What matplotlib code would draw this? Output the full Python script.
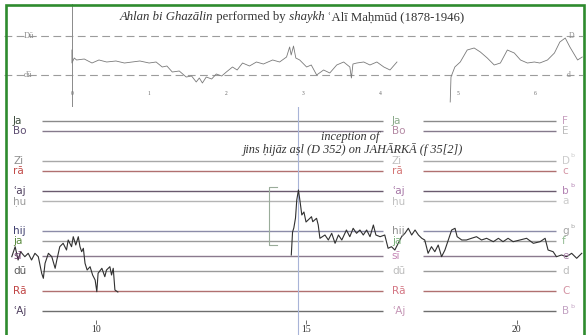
import matplotlib
matplotlib.use("Agg")
import matplotlib.pyplot as plt
from matplotlib.patches import Rectangle

# --- overview (top panel): position in minutes-ish marks, pitch in semitones above 'Aj
top_x_a = [0.00, 0.00, 0.03, 0.06, 0.16, 0.26, 0.35, 0.45, 0.57, 0.68, 0.78, 0.88, 1.00, 1.09,
           1.17, 1.23, 1.30, 1.39, 1.48, 1.55, 1.61, 1.65, 1.69, 1.74, 1.81, 1.87, 1.94, 2.00,
           2.08, 2.14, 2.21, 2.30, 2.39, 2.48, 2.60, 2.69, 2.78, 2.82, 2.84, 2.87, 2.90, 2.95,
           3.04, 3.10, 3.17, 3.26, 3.34, 3.43, 3.52, 3.60, 3.62, 3.64, 3.69, 3.78, 3.86, 3.95,
           4.04, 4.12, 4.21]
top_p_a = [11.69, 7.69, 9.23, 8.62, 8.92, 7.69, 8.62, 8.0, 8.31, 7.69, 8.0, 8.31, 7.69, 8.0,
           6.46, 6.77, 4.92, 5.23, 3.38, 3.69, 1.85, 3.08, 1.54, 3.38, 2.77, 4.31, 3.69, 4.92,
           6.46, 5.54, 7.69, 6.77, 8.0, 7.38, 8.62, 8.0, 9.54, 12.62, 10.15, 12.92, 9.23, 8.62,
           6.46, 7.08, 4.0, 5.54, 4.62, 7.08, 8.0, 6.46, 3.08, 7.38, 7.69, 8.0, 7.08, 8.0,
           6.46, 5.54, 8.0]
top_x_b = [4.90, 4.91, 4.96, 5.03, 5.12, 5.21, 5.29, 5.38, 5.47, 5.55, 5.64, 5.73, 5.81, 5.90,
           5.99, 6.06, 6.16, 6.25, 6.32, 6.39, 6.45, 6.55, 6.61]
top_p_b = [-4.31, 3.38, 6.46, 8.0, 11.69, 12.31, 11.08, 9.23, 7.08, 7.69, 11.69, 10.77, 8.62,
           7.69, 8.0, 7.69, 8.62, 10.77, 14.15, 15.38, 12.62, 8.62, 9.54]
top_marks = [0, 1, 2, 3, 4, 5, 6]

# --- detail (bottom panel): time in seconds, pitch in semitones above 'Aj
t_a = [8.00, 8.08, 8.15, 8.21, 8.31, 8.39, 8.47, 8.55, 8.63, 8.71, 8.75, 8.79, 8.87, 8.95,
       9.03, 9.07, 9.14, 9.22, 9.30, 9.34, 9.42, 9.46, 9.52, 9.58, 9.62, 9.66, 9.70, 9.74,
       9.79, 9.86, 9.92, 9.98, 10.02, 10.05, 10.14, 10.21, 10.25, 10.33, 10.37, 10.41, 10.45,
       10.52]
p_a = [5.43, 6.43, 5.1, 5.93, 5.43, 5.77, 5.1, 5.77, 5.43, 3.77, 3.27, 4.77, 5.77, 5.43,
       4.27, 5.1, 6.43, 6.77, 6.1, 7.1, 6.43, 7.43, 6.6, 7.43, 6.43, 5.93, 6.27, 4.77,
       4.1, 4.43, 3.6, 3.1, 1.93, 3.77, 4.27, 3.43, 4.1, 4.43, 3.6, 4.27, 2.1, 1.9]
t_b = [14.64, 14.67, 14.70, 14.74, 14.77, 14.81, 14.85, 14.89, 14.94, 14.99, 15.04, 15.12,
       15.15, 15.24, 15.28, 15.32, 15.44, 15.52, 15.60, 15.68, 15.76, 15.84, 15.95, 16.03,
       16.11, 16.19, 16.27, 16.35, 16.43, 16.51, 16.59, 16.65, 16.75, 16.86, 16.94, 17.02,
       17.10, 17.18, 17.26, 17.34, 17.42, 17.50, 17.58, 17.66, 17.74, 17.81, 17.89, 17.97,
       18.05, 18.13, 18.21, 18.29, 18.37, 18.45, 18.53, 18.58, 18.69, 18.80, 18.92, 19.04,
       19.16, 19.28, 19.44, 19.56, 19.67, 19.79, 19.91, 20.07, 20.23, 20.39, 20.55, 20.67,
       20.74, 20.86, 20.94, 21.06, 21.18, 21.30, 21.42, 21.54]
p_b = [5.6, 7.9, 8.3, 9.3, 11.1, 12.1, 10.9, 9.6, 9.9, 8.9, 9.1, 9.43,
       8.93, 9.27, 8.6, 7.27, 7.6, 7.1, 7.77, 6.77, 7.6, 7.1, 8.1, 7.43,
       8.27, 7.77, 8.1, 7.6, 8.1, 7.43, 8.6, 7.6, 7.43, 7.6, 6.27, 6.43,
       6.1, 6.77, 7.43, 7.77, 8.27, 7.6, 8.1, 7.6, 7.27, 7.1, 5.77, 6.43,
       5.93, 6.6, 5.43, 6.1, 7.1, 8.1, 8.27, 7.43, 7.1, 7.1, 7.27, 7.43,
       7.1, 7.27, 6.93, 7.27, 6.93, 7.27, 6.93, 7.1, 7.27, 6.77, 6.93, 7.27,
       6.1, 5.93, 5.43, 5.6, 5.43, 5.77, 5.27, 5.77]

notes = ["Ja", "Bo", "Zi", "rā", "ʿaj", "ḥu", "hij", "ja", "sī", "dū", "Rā", "ʿAj"]
note_pitch = [19, 18, 15, 14, 12, 11, 8, 7, 5.5, 4, 2, 0]
western = ["F", "E", "D", "c", "b", "a", "g", "f", "e", "d", "C", "B"]
flat = [False, False, True, False, True, False, True, False, False, False, False, True]
line_col = ["#8a8a8a", "#857a8c", "#a8a8a8", "#b07070", "#6a5a6e", "#b4b4b4",
            "#8c8ca8", "#9a9a9a", "#8a7a8e", "#9a9a9a", "#b07070", "#6e6e6e"]
left_col = ["#3e4e3e", "#5e4e72", "#8e8e8e", "#c24a48", "#4e3e5e", "#9a9a9a",
            "#3e3e6e", "#5a8a3e", "#6e3e6e", "#5a5a5a", "#c04444", "#4e3e5e"]
mid_col = ["#8aaa8a", "#b48aa4", "#c0c0c0", "#d47676", "#a676a6", "#c0c0c0",
           "#8e8e8e", "#7ab07a", "#c484b4", "#bcbcbc", "#d47684", "#c494b4"]
right_col = ["#c8a0c0", "#bcbcbc", "#cccccc", "#d494a4", "#b484b4", "#cccccc",
             "#a4a4a4", "#94bc94", "#a884a8", "#bcbcbc", "#d494a4", "#c4a4c4"]
ticks = [10, 15, 20]

title_runs = [("Ahlan bi Ghazālin", "italic"), (" performed by", "normal"),
              (" shaykh", "italic"), (" ʿAlī Maḥmūd (1878-1946)", "normal")]

SERIF = ["Liberation Serif", "DejaVu Serif"]
SANS = ["DejaVu Sans"]
LABEL_SIZE = 7.5

fig = plt.figure(figsize=(5.87, 3.35), dpi=100)
W, H = 587, 335

# top overview
ax1 = fig.add_axes([4 / W, 1 - 107 / H, 579 / W, 103 / H])
ax1.set_facecolor("#e5f1e2")
ax1.set_xlim(-0.88, 6.62)
ax1.set_ylim(-5.85, 25.85)
ax1.axis("off")
ax1.patch.set_visible(True)
for p in [16, 4]:
    ax1.axhline(p, color="#9c9c9c", lw=0.8, dashes=(7, 4))
ax1.axvline(0, color="#8a8a8a", lw=0.7)
ax1.plot(top_x_a, top_p_a, color="#7a7a7a", lw=0.6)
ax1.plot(top_x_b, top_p_b, color="#7a7a7a", lw=0.6)
ax1.text(-0.62, 16, "Dū", family=SERIF, fontsize=6, color="#8a8a8a", va="center")
ax1.text(-0.62, 4, "dū", family=SERIF, fontsize=6, color="#8a8a8a", va="center")
ax1.text(6.43, 16, "D", family=SERIF, fontsize=5.5, color="#8a8a8a", va="center")
ax1.text(6.41, 4, "d", family=SERIF, fontsize=5.5, color="#8a8a8a", va="center")
for m in top_marks:
    ax1.text(m, -1.6, str(m), family=SERIF, fontsize=4, color="#666666",
             ha="center", va="center")

# bottom detail
ax2 = fig.add_axes([4 / W, 0, 579 / W, 228 / H])
ax2.set_xlim(7.815, 21.57)
ax2.set_ylim(-2.4, 20.4)
ax2.axis("off")
ax2.hlines(note_pitch, 8.72, 16.82, colors=line_col, lw=1.0)
ax2.hlines(note_pitch, 17.77, 20.93, colors=line_col, lw=1.0)
for n, p, lc, mc in zip(notes, note_pitch, left_col, mid_col):
    ax2.text(8.03, p, n, family=SANS, fontsize=LABEL_SIZE, color=lc, va="center")
    ax2.text(17.03, p, n, family=SANS, fontsize=LABEL_SIZE, color=mc, va="center")
for n, p, fl, rc in zip(western, note_pitch, flat, right_col):
    ax2.text(21.07, p, n, family=SANS, fontsize=LABEL_SIZE, color=rc, va="center")
    if fl:
        ax2.text(21.27, p + 0.25, "b", family=SANS, fontsize=4.5, color=rc, va="bottom")

ax2.axvline(14.80, color="#a8b4d8", lw=0.8)
ax2.plot([14.30, 14.11, 14.11, 14.30], [12.4, 12.4, 6.6, 6.6], color="#9aac9a", lw=0.8)

ax2.plot(t_a, p_a, color="#303030", lw=0.8)
ax2.plot(t_b, p_b, color="#303030", lw=0.8)

ax2.vlines(ticks, -1.3, -0.9, colors="#555555", lw=0.6)
for tk in ticks:
    ax2.text(tk, -1.8, str(tk), family=SERIF, fontsize=7, color="#333333",
             ha="center", va="center")

ax2.text(16.03, 17.4, "inception of", family=SERIF, style="italic", fontsize=8.8,
         color="#333333", ha="center", va="center")
ax2.text(16.10, 16.1, "jins ḥijāz aṣl (D 352) on JAHĀRKĀ (f 35[2])", family=SERIF,
         style="italic", fontsize=8.8, color="#333333", ha="center", va="center")

# title with mixed italic runs
renderer = fig.canvas.get_renderer()
texts = [fig.text(0, 1 - 17 / H, s, style=st, family=SERIF, fontsize=9.2,
                  color="#333333", va="center") for s, st in title_runs]
widths = [t.get_window_extent(renderer).width for t in texts]
x = 292 - sum(widths) / 2
for t, w in zip(texts, widths):
    t.set_x(x / W)
    x += w

# green frame
fig.add_artist(Rectangle((5.5 / W, -0.05), 578 / W, 1.05 - 5.5 / H, transform=fig.transFigure,
                         fill=False, edgecolor="#2e8b2e", linewidth=1.9, zorder=10))

fig.savefig("out.png", dpi=100)
